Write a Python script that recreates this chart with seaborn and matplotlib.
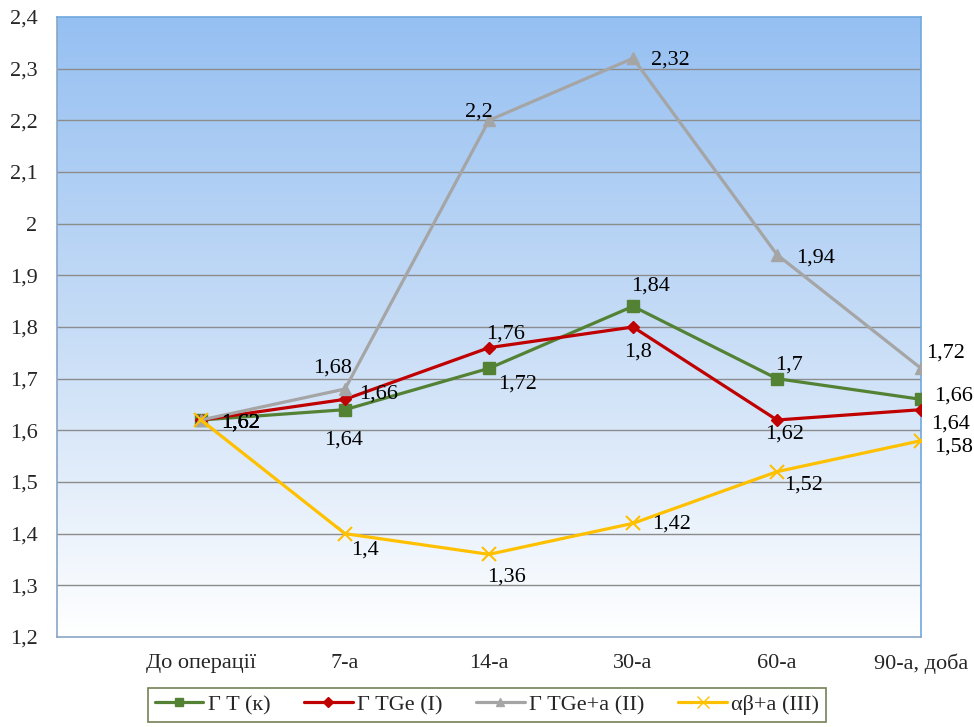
import numpy as np
import pandas as pd
import matplotlib
matplotlib.use('Agg')
import matplotlib.pyplot as plt
from matplotlib.colors import LinearSegmentedColormap
from matplotlib.ticker import FuncFormatter
import seaborn as sns

# chart values
categories = ['До операції', '7-а', '14-а', '30-а', '60-а', '90-а, доба']
series_names = ['Г T (к)', 'Г TGe (I)', 'Г TGe+a (II)', 'αβ+a (III)']
g_t = [1.62, 1.64, 1.72, 1.84, 1.70, 1.66]
g_tge = [1.62, 1.66, 1.76, 1.80, 1.62, 1.64]
g_tge_a = [1.62, 1.68, 2.20, 2.32, 1.94, 1.72]
ab_a = [1.62, 1.40, 1.36, 1.42, 1.52, 1.58]
y_ticks = [1.2, 1.3, 1.4, 1.5, 1.6, 1.7, 1.8, 1.9, 2.0, 2.1, 2.2, 2.3, 2.4]

values = [g_t, g_tge, g_tge_a, ab_a]
rows = []
for name, vals in zip(series_names, values):
    for i, v in enumerate(vals):
        rows.append({'series': name, 'pos': i + 1, 'value': v})
df = pd.DataFrame(rows)

# styles
colors = ['#548235', '#c00000', '#a5a5a5', '#ffc000']
markers = ['s', 'D', '^', 'x']
msizes = [8, 6, 8, 10]
# label offsets in pixels (dx right, dy down), per series per point
label_px = [
    [(40, 3), (-1, 30), (29, 16), (18, -20), (12, -14), (33, -3)],
    [(40, 3), (34, -5), (17, -14), (5, 25), (8, 14), (30, 14)],
    [(40, 3), (-12, -21), (-10, -8), (37, 2), (39, 3), (25, -15)],
    [(40, 3), (20, 16), (17, 23), (39, 1), (27, 13), (33, 6)],
]
fs = 16

sns.set_theme(style='white')
plt.rcParams['font.family'] = ['Liberation Serif', 'DejaVu Serif']

fig = plt.figure(figsize=(9.74, 7.27), dpi=100)
ax = fig.add_axes([57 / 974, 1 - 637 / 727, (921 - 57) / 974, (637 - 17) / 727])

# gradient background
cmap = LinearSegmentedColormap.from_list('bg', ['#ffffff', '#c6dcf6', '#96c0f2'])
grad = np.linspace(0, 1, 256).reshape(-1, 1)
ax.imshow(grad, cmap=cmap, origin='lower', aspect='auto', extent=[0, 1, 0, 1],
          transform=ax.transAxes, zorder=0)

for y in y_ticks[1:-1]:
    ax.axhline(y, color='#8c8c8c', lw=1.0, zorder=1)

for k, name in enumerate(series_names):
    sub = df[df['series'] == name]
    sns.lineplot(data=sub, x='pos', y='value', ax=ax, color=colors[k], lw=2.3,
                 marker=markers[k], ms=msizes[k], mec=colors[k],
                 mew=1.5 if markers[k] == 'x' else 1, label=name, zorder=3 + k * 0.1,
                 legend=False)
    for i, v in enumerate(values[k]):
        dx, dy = label_px[k][i]
        ax.annotate(f'{v:g}'.replace('.', ','), (i + 1, v),
                    xytext=(dx * 0.72, -dy * 0.72), textcoords='offset points',
                    ha='center', va='center', fontsize=fs, color='black', zorder=5)

ax.set_xlim(0, 6)
ax.set_ylim(1.2, 2.4)
ax.set_xticks(range(0, 7))
ax.set_xticklabels([''] + categories, fontsize=fs)
ax.set_yticks(y_ticks)
ax.yaxis.set_major_formatter(FuncFormatter(lambda v, p: f'{v:g}'.replace('.', ',')))
ax.tick_params(axis='y', length=0, pad=14, labelsize=fs)
ax.tick_params(axis='x', length=5, width=0.8, color='#8c8c8c', direction='out', pad=7)
ax.set_xlabel('')
ax.set_ylabel('')
for s in ['left', 'bottom']:
    ax.spines[s].set_color('#8aa5c5')
    ax.spines[s].set_linewidth(1.2)
for s in ['top', 'right']:
    ax.spines[s].set_color('#6fa8e0')
    ax.spines[s].set_linewidth(1.2)

handles = [plt.Line2D([], [], color=c, lw=2.3, marker=m, ms=s * 0.8, mec=c)
           for c, m, s in zip(colors, markers, msizes)]
leg = fig.legend(handles, series_names, loc='upper center', ncol=4,
                 bbox_to_anchor=(0.5, 1 - 688 / 727), fontsize=fs, frameon=True,
                 fancybox=False, handlelength=2.2, handletextpad=0.2,
                 columnspacing=1.5, borderpad=0.3, borderaxespad=0)
leg.get_frame().set_edgecolor('#4f6228')
leg.get_frame().set_linewidth(1.2)

fig.savefig('out.png', dpi=100)
